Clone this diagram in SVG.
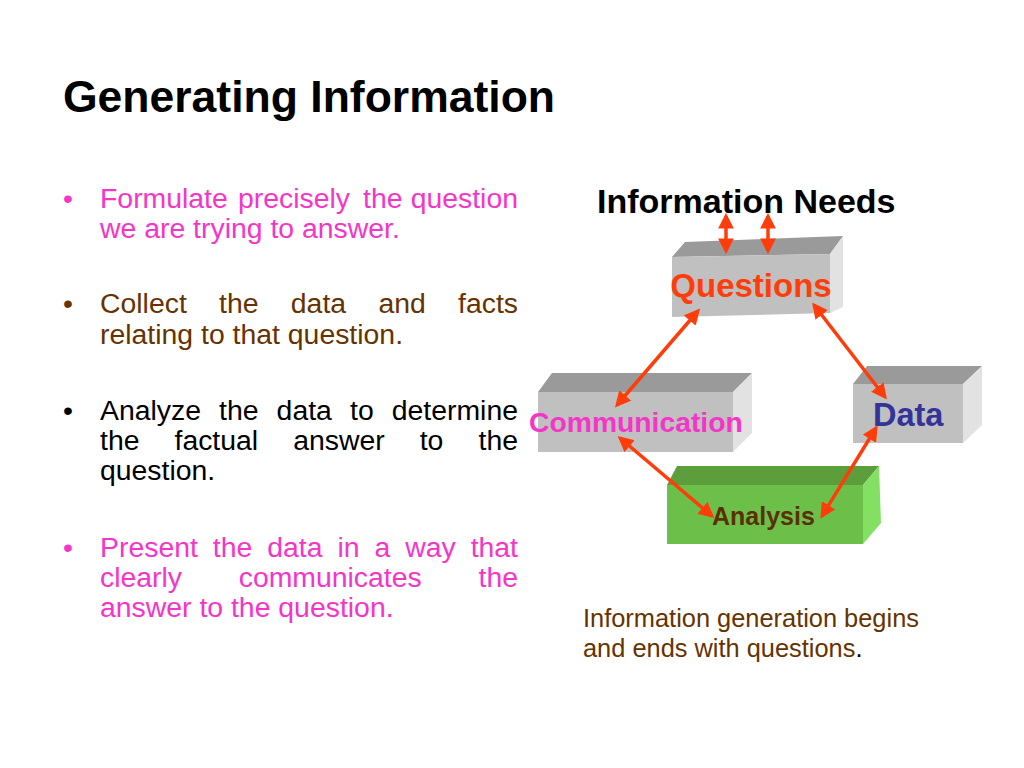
<svg xmlns="http://www.w3.org/2000/svg" width="1024" height="768" viewBox="0 0 1024 768">
<defs>
<marker id="ah" viewBox="0 0 10 10" refX="8" refY="5" markerWidth="4.5" markerHeight="4.5" orient="auto-start-reverse">
<path d="M0,0 L10,5 L0,10 z" fill="#ff3d0a"/>
</marker>
</defs>
<style>
text{font-family:"Liberation Sans",Arial,sans-serif}
.b{font-size:28.4px}
.pink{fill:#f535c8}
.brown{fill:#663300}
.blk{fill:#000}
.top{fill:#9a9a9a}
.front{fill:#c0c0c0}
.side{fill:#e2e2e2}
.gtop{fill:#5c9e3c}
.gfront{fill:#6cc04a}
.gside{fill:#84e062}
.lbl{font-weight:bold}
.conn line{stroke:#ff3d0a;stroke-width:3.5;marker-start:url(#ah);marker-end:url(#ah)}
</style>
<rect width="1024" height="768" fill="#fff"/>
<text x="63" y="112" font-size="44.5" font-weight="bold" fill="#000">Generating Information</text>

<g id="bullets" class="b">
<g class="pink">
<text x="63" y="208">•</text>
<text y="208"><tspan x="100">Formulate</tspan><tspan x="238">precisely</tspan><tspan x="363">the</tspan><tspan x="518" text-anchor="end">question</tspan></text>
<text x="100" y="238">we are trying to answer.</text>
</g>
<g class="brown">
<text x="63" y="313">•</text>
<text y="313"><tspan x="100">Collect</tspan><tspan x="219">the</tspan><tspan x="290.8">data</tspan><tspan x="378.4">and</tspan><tspan x="518" text-anchor="end">facts</tspan></text>
<text x="100" y="344">relating to that question.</text>
</g>
<g class="blk">
<text x="63" y="420">•</text>
<text y="420"><tspan x="100">Analyze</tspan><tspan x="219">the</tspan><tspan x="276.6">data</tspan><tspan x="350">to</tspan><tspan x="518" text-anchor="end">determine</tspan></text>
<text y="450"><tspan x="100">the</tspan><tspan x="174.5">factual</tspan><tspan x="293.2">answer</tspan><tspan x="419.7">to</tspan><tspan x="518" text-anchor="end">the</tspan></text>
<text x="100" y="480">question.</text>
</g>
<g class="pink">
<text x="63" y="557">•</text>
<text y="557"><tspan x="100">Present</tspan><tspan x="212.8">the</tspan><tspan x="267.2">data</tspan><tspan x="337.4">in</tspan><tspan x="374.4">a</tspan><tspan x="405.2">way</tspan><tspan x="518" text-anchor="end">that</tspan></text>
<text y="587"><tspan x="100">clearly</tspan><tspan x="238.7">communicates</tspan><tspan x="518" text-anchor="end">the</tspan></text>
<text x="100" y="617">answer to the question.</text>
</g>
</g>

<text id="needs" x="597" y="213" font-size="34" font-weight="bold" fill="#000">Information Needs</text>

<g id="questions">
<polygon class="top" points="672,257 685,242 843,236 830,254"/>
<polygon class="front" points="672,257 830,254 830,313 672,317"/>
<polygon class="side" points="830,254 843,236 843,307 830,313"/>
<text class="lbl" x="751" y="297" font-size="33" text-anchor="middle" fill="#ff3d0a">Questions</text>
</g>

<g id="communication">
<polygon class="top" points="538,392 552,373 752,373 733,392"/>
<polygon class="front" points="538,392 733,392 733,452 538,452"/>
<polygon class="side" points="733,392 752,373 752,433 733,452"/>
<text class="lbl" x="529" y="432" font-size="28.3" fill="#f535c8">Communication</text>
</g>

<g id="data">
<polygon class="top" points="853,384 867,366 982,366 963,384"/>
<polygon class="front" points="853,384 963,384 963,443 853,443"/>
<polygon class="side" points="963,384 982,366 982,425 963,443"/>
<text class="lbl" x="873" y="426" font-size="32.5" fill="#333399">Data</text>
</g>

<g id="analysis">
<polygon class="gtop" points="667,485 677,466 879,466 863,485"/>
<polygon class="gfront" points="667,485 863,485 863,544 667,544"/>
<polygon class="gside" points="863,485 879,466 881,523 863,544"/>
<text class="lbl" x="712" y="525" font-size="25" fill="#5a3000">Analysis</text>
</g>

<g id="connectors" class="conn">
<line x1="726" y1="216" x2="726" y2="251"/>
<line x1="768" y1="216" x2="768" y2="251"/>
<line x1="698" y1="311" x2="617" y2="405"/>
<line x1="814" y1="305" x2="885" y2="397"/>
<line x1="620" y1="438" x2="712" y2="516"/>
<line x1="876" y1="428" x2="822" y2="516"/>
</g>

<g id="caption">
<text x="583" y="627" font-size="25.4" fill="#663300">Information generation begins</text>
<text x="583" y="657" font-size="25.4" fill="#663300">and ends with questions<tspan fill="#000">.</tspan></text>
</g>
</svg>
